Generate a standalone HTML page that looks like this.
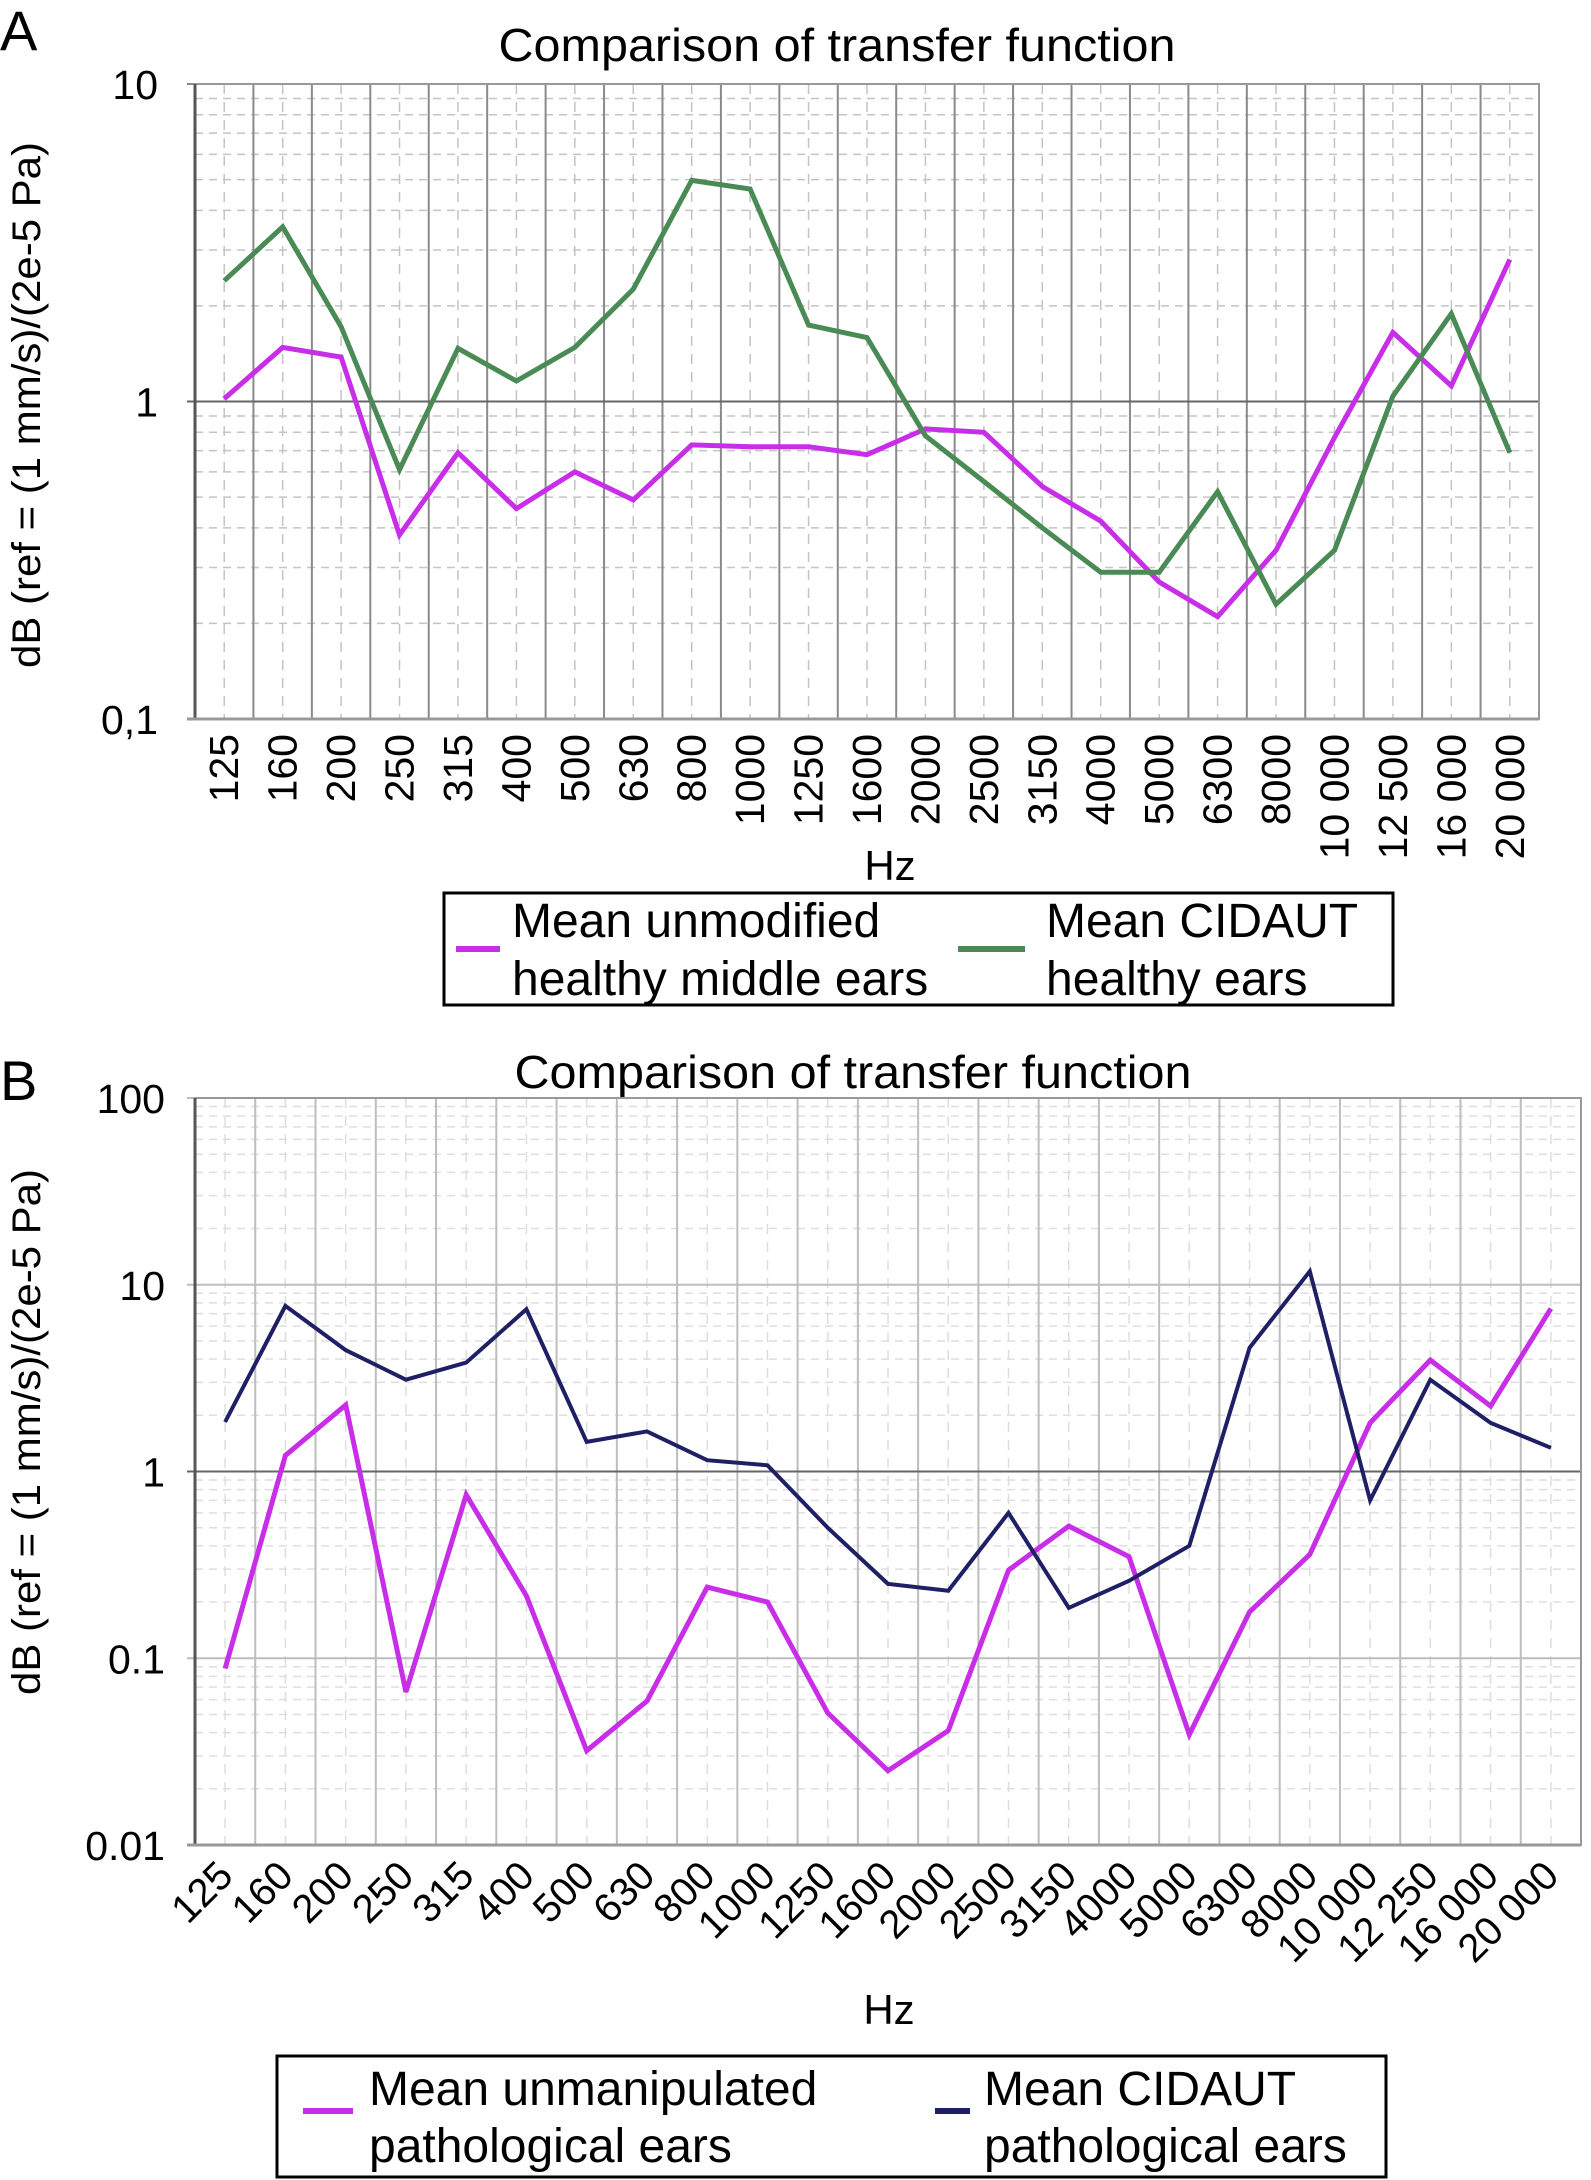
<!DOCTYPE html>
<html><head><meta charset="utf-8"><style>
html,body{margin:0;padding:0;background:#fff;}
svg{display:block;font-family:"Liberation Sans",Arial,sans-serif;}
</style></head><body>
<svg id="fig" width="1591" height="2180" viewBox="0 0 1591 2180" xmlns="http://www.w3.org/2000/svg">
<rect width="1591" height="2180" fill="#fff"/>
<text x="0" y="50" font-size="56">A</text>
<text x="837" y="61" font-size="46" text-anchor="middle" textLength="677" lengthAdjust="spacingAndGlyphs">Comparison of transfer function</text>
<text transform="translate(40,405) rotate(-90)" font-size="40" text-anchor="middle" textLength="526" lengthAdjust="spacingAndGlyphs">dB (ref = (1 mm/s)/(2e-5 Pa)</text>
<text x="890" y="880" font-size="42" text-anchor="middle">Hz</text>
<g id="chartA"></g>
<g>
<rect x="444" y="893" width="949" height="112" fill="none" stroke="#000" stroke-width="3"/>
<line x1="456" y1="949" x2="500" y2="949" stroke="#c82ee8" stroke-width="6"/>
<text x="512" y="937" font-size="48">Mean unmodified</text>
<text x="512" y="995" font-size="48">healthy middle ears</text>
<line x1="958" y1="949" x2="1025" y2="949" stroke="#4a8a55" stroke-width="6"/>
<text x="1046" y="937" font-size="48">Mean CIDAUT</text>
<text x="1046" y="995" font-size="48">healthy ears</text>
</g>
<text x="0" y="1100" font-size="56">B</text>
<text x="853" y="1088" font-size="46" text-anchor="middle" textLength="677" lengthAdjust="spacingAndGlyphs">Comparison of transfer function</text>
<text transform="translate(40,1432) rotate(-90)" font-size="40" text-anchor="middle" textLength="526" lengthAdjust="spacingAndGlyphs">dB (ref = (1 mm/s)/(2e-5 Pa)</text>
<text x="889" y="2024" font-size="42" text-anchor="middle">Hz</text>
<g id="chartB"></g>
<g>
<rect x="277" y="2056" width="1109" height="121" fill="none" stroke="#000" stroke-width="3"/>
<line x1="303" y1="2111" x2="353" y2="2111" stroke="#c82ee8" stroke-width="6"/>
<text x="369" y="2105" font-size="48">Mean unmanipulated</text>
<text x="369" y="2162" font-size="48">pathological ears</text>
<line x1="935" y1="2111" x2="970" y2="2111" stroke="#1f1f66" stroke-width="6"/>
<text x="984" y="2105" font-size="48">Mean CIDAUT</text>
<text x="984" y="2162" font-size="48">pathological ears</text>
</g>
</svg>
<script>
const categoriesA = ["125","160","200","250","315","400","500","630","800","1000","1250","1600","2000","2500","3150","4000","5000","6300","8000","10 000","12 500","16 000","20 000"];
const unmodifiedA = [1.02,1.48,1.38,0.38,0.69,0.46,0.6,0.49,0.73,0.72,0.72,0.68,0.82,0.8,0.54,0.42,0.27,0.21,0.34,0.77,1.65,1.12,2.8];
const cidautA = [2.4,3.55,1.72,0.61,1.47,1.16,1.48,2.26,4.97,4.67,1.74,1.59,0.78,0.56,0.4,0.29,0.29,0.52,0.23,0.34,1.04,1.89,0.69];
const yTicksA = ["0,1","1","10"];
const categoriesB = ["125","160","200","250","315","400","500","630","800","1000","1250","1600","2000","2500","3150","4000","5000","6300","8000","10 000","12 250","16 000","20 000"];
const unmanipB = [0.088,1.22,2.27,0.066,0.75,0.216,0.032,0.059,0.24,0.2,0.051,0.025,0.041,0.296,0.51,0.35,0.039,0.177,0.36,1.82,3.95,2.24,7.45];
const cidautB = [1.84,7.7,4.47,3.1,3.83,7.4,1.44,1.64,1.15,1.08,0.5,0.25,0.23,0.6,0.186,0.26,0.4,4.6,11.8,0.7,3.1,1.82,1.34];
const yTicksB = ["0.01","0.1","1","10","100"];

const NS="http://www.w3.org/2000/svg";
function mk(parent,tag,attrs){const e=document.createElementNS(NS,tag);for(const k in attrs)e.setAttribute(k,attrs[k]);parent.appendChild(e);return e;}

function drawChart(g,cfg){
  const {L,R,T,B,minExp,maxExp,cats,series,yTicks,rot,gridMajor,gridMinor,tickFont,yLabelX,xLabelY,xFont}=cfg;
  const n=cats.length, bw=(R-L)/n;
  const xs=i=>L+bw*(i+0.5);
  const ys=v=>B-(Math.log10(v)-minExp)/(maxExp-minExp)*(B-T);
  for(let e=minExp;e<maxExp;e++){for(let m=2;m<10;m++){const y=ys(m*Math.pow(10,e));
    const l=mk(g,'line',{x1:L,x2:R,y1:y,y2:y,stroke:gridMinor,'stroke-width':1.5,'stroke-dasharray':'8,6'});
    
    }}
  for(let i=0;i<n;i++){const l=mk(g,'line',{x1:xs(i),x2:xs(i),y1:T,y2:B,stroke:gridMinor,'stroke-width':1.5,'stroke-dasharray':'10,8'});
    
    }
  for(let i=1;i<n;i++){const x=L+bw*i;const l=mk(g,'line',{x1:x,x2:x,y1:T,y2:B,stroke:gridMajor,'stroke-width':2});
    
    }
  for(let e=minExp;e<=maxExp;e++){const y=ys(Math.pow(10,e));
    const l=mk(g,'line',{x1:L-8,x2:R,y1:y,y2:y,stroke:(e==0?'#666':gridMajor),'stroke-width':2});
    
    
    const t=mk(g,'text',{x:yLabelX,y:y+15,'font-size':tickFont,'text-anchor':'end'});
    t.textContent=yTicks[e-minExp];
    
    }
  const fr=mk(g,'rect',{x:L,y:T,width:R-L,height:B-T,fill:'none',stroke:'#999','stroke-width':2});
  
  
  const ax=mk(g,'line',{x1:L,x2:L,y1:T,y2:B,stroke:'#555','stroke-width':3});
  
  
  const bx=mk(g,'line',{x1:L-8,x2:R,y1:B,y2:B,stroke:'#999','stroke-width':3});
  
  
  for(let i=0;i<n;i++){const x=xs(i);
    let t;
    if(rot===-90){t=mk(g,'text',{transform:`translate(${x+14},${xLabelY}) rotate(-90)`,'font-size':xFont,'text-anchor':'end'});}
    else {t=mk(g,'text',{transform:`translate(${x+10},${xLabelY}) rotate(-45)`,'font-size':xFont,'text-anchor':'end'});}
    t.textContent=cats[i];
    
    }
  series.forEach(s=>{
    const pts=s.vals.map((v,i)=>xs(i).toFixed(1)+','+ys(v).toFixed(1)).join(' ');
    const p=mk(g,'polyline',{points:pts,fill:'none',stroke:s.color,'stroke-width':s.w,'stroke-linejoin':'miter'});
    
    
  });
}
drawChart(document.getElementById('chartA'),{L:195,R:1539,T:84,B:719,minExp:-1,maxExp:1,cats:categoriesA,
  series:[{vals:unmodifiedA,color:'#c82ee8',w:5,name:'series-unmodified-healthy'},{vals:cidautA,color:'#4a8a55',w:5,name:'series-cidaut-healthy'}],
  yTicks:yTicksA,rot:-90,gridMajor:'#8a8a8a',gridMinor:'#c4c4c4',tickFont:41,yLabelX:158,xLabelY:734,xFont:41});
drawChart(document.getElementById('chartB'),{L:195,R:1581,T:1098,B:1845,minExp:-2,maxExp:2,cats:categoriesB,
  series:[{vals:unmanipB,color:'#c82ee8',w:5,name:'series-unmanipulated-pathological'},{vals:cidautB,color:'#1f1f66',w:4,name:'series-cidaut-pathological'}],
  yTicks:yTicksB,rot:-45,gridMajor:'#bdbdbd',gridMinor:'#dedede',tickFont:41,yLabelX:165,xLabelY:1878,xFont:40});
</script>
</body></html>
